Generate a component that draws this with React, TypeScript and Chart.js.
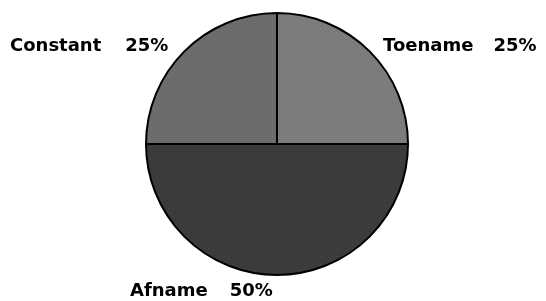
import React, { useEffect, useRef } from "react";
import { Chart, registerables } from "chart.js";

Chart.register(...registerables);

const categories = ["Toename", "Afname", "Constant"];
const values = [25, 50, 25];
const baseColors = ["#7a7a7a", "#3a3a3a", "#6a6a6a"];
const dotColors = ["#878787", "#444444", "#7c7c7c"];

function makePattern(base: string, dot: string): CanvasPattern | string {
  const c = document.createElement("canvas");
  c.width = 4;
  c.height = 4;
  const g = c.getContext("2d");
  if (!g) return base;
  g.fillStyle = base;
  g.fillRect(0, 0, 4, 4);
  g.fillStyle = dot;
  g.fillRect(0, 0, 1, 1);
  g.fillRect(2, 2, 1, 1);
  const p = g.createPattern(c, "repeat");
  return p || base;
}

const labelPlugin = {
  id: "sliceLabels",
  afterDraw(chart: any) {
    const meta = chart.getDatasetMeta(0);
    const arc = meta.data[0];
    if (!arc) return;
    const cx = arc.x;
    const cy = arc.y;
    const ctx = chart.ctx;
    const total = values.reduce((a, b) => a + b, 0);
    // label anchors relative to pie center (name left x, baseline y)
    const anchors: Record<string, [number, number, number]> = {
      Toename: [106, -93, 20],
      Afname: [-147, 152, 22],
      Constant: [-267, -93, 24],
    };
    ctx.save();
    ctx.fillStyle = "#000";
    ctx.font = "bold 18px 'DejaVu Sans'";
    ctx.textBaseline = "alphabetic";
    ctx.textAlign = "left";
    categories.forEach((name, i) => {
      const a = anchors[name];
      const x = cx + a[0];
      const y = cy + a[1];
      ctx.fillText(name, x, y);
      const w = ctx.measureText(name).width;
      const pct = Math.round((values[i] / total) * 100) + "%";
      ctx.fillText(pct, x + w + a[2], y);
    });
    ctx.restore();
  },
};

export default function App() {
  const ref = useRef<HTMLCanvasElement | null>(null);
  useEffect(() => {
    if (!ref.current) return;
    const fills = baseColors.map((b, i) => makePattern(b, dotColors[i]));
    const chart = new Chart(ref.current, {
      type: "pie",
      data: {
        labels: categories,
        datasets: [
          {
            data: values,
            backgroundColor: fills as any,
            borderColor: "#000000",
            borderWidth: 2,
          },
        ],
      },
      options: {
        responsive: false,
        animation: false,
        devicePixelRatio: 1,
        layout: { padding: { top: 12, bottom: 25, left: 8, right: 0 } },
        plugins: {
          legend: { display: false },
          tooltip: { enabled: false },
        },
      },
      plugins: [labelPlugin],
    });
    return () => chart.destroy();
  }, []);
  return (
    <div style={{ position: "absolute", left: 0, top: 0, width: 546, height: 301, background: "#fff" }}>
      <canvas ref={ref} width={546} height={301} />
    </div>
  );
}
